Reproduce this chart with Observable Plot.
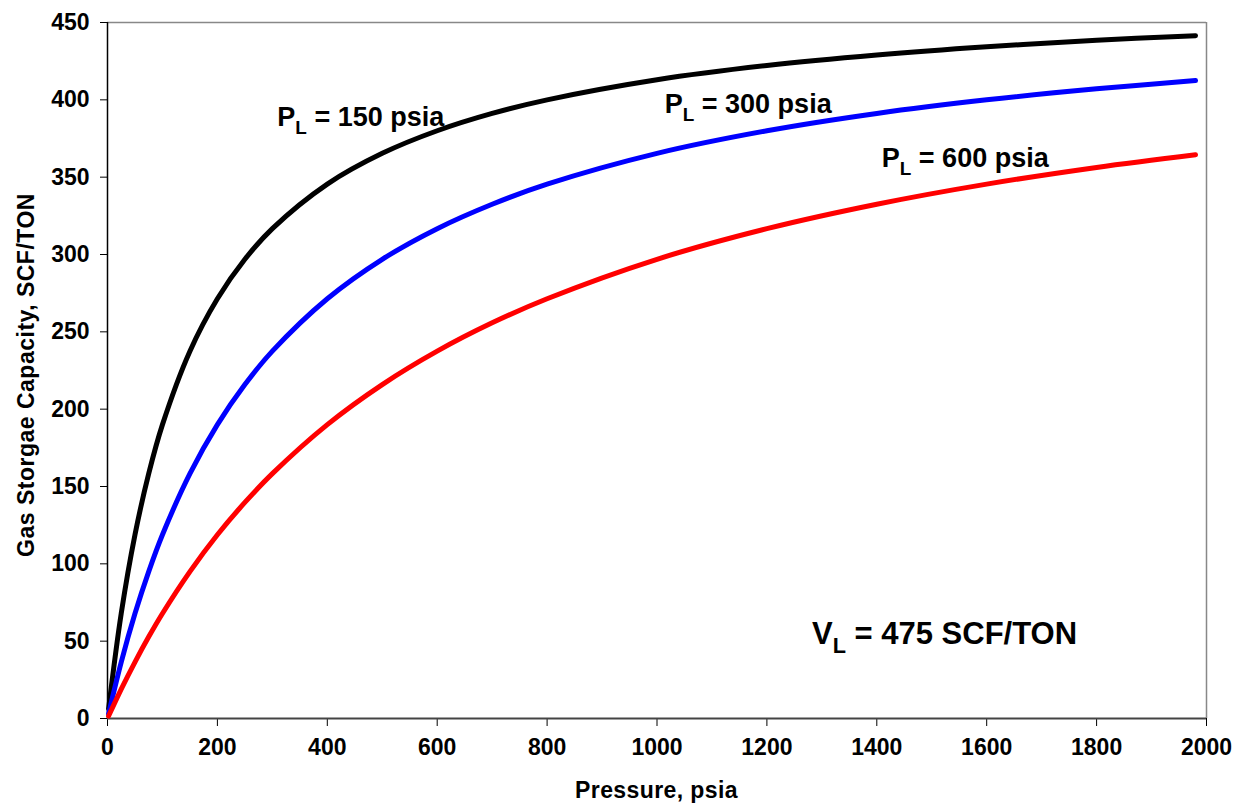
<!DOCTYPE html>
<html>
<head>
<meta charset="utf-8">
<script src="https://cdn.jsdelivr.net/npm/d3@7"></script>
<script src="https://cdn.jsdelivr.net/npm/@observablehq/plot@0.6"></script>
<style>
  html, body { margin: 0; padding: 0; background: #fff; }
  #chart { width: 1238px; height: 811px; }
  svg { font-family: "Liberation Sans", Arial, sans-serif; }
</style>
</head>
<body>
<div id="chart"></div>
<script>
// Pressure (psia) sample points
const pressure = [2, 25, 50, 75, 100, 150, 200, 250, 300, 400, 500, 600, 700, 800, 1000, 1200, 1400, 1600, 1800, 1980];
// Gas storage capacity (SCF/TON) for each Langmuir pressure
const capPL150 = [6.2, 67.9, 118.8, 158.3, 190, 237.5, 271.4, 296.9, 316.7, 345.5, 365.4, 380, 391.2, 400, 413, 422.2, 429, 434.3, 438.5, 441.5];
const capPL300 = [3.1, 36.5, 67.9, 95, 118.8, 158.3, 190, 215.9, 237.5, 271.4, 296.9, 316.7, 332.5, 345.5, 365.4, 380, 391.2, 400, 407.1, 412.5];
const capPL600 = [1.6, 19, 36.5, 52.8, 67.9, 95, 118.8, 139.7, 158.3, 190, 215.9, 237.5, 255.8, 271.4, 296.9, 316.7, 332.5, 345.5, 356.3, 364.5];
const seriesNames = ["PL150", "PL300", "PL600"];
const seriesColors = ["#000000", "#0000ff", "#ff0000"];

// Tick labels
const xTicks = [0, 200, 400, 600, 800, 1000, 1200, 1400, 1600, 1800, 2000];
const yTicks = [0, 50, 100, 150, 200, 250, 300, 350, 400, 450];

// Annotations (data coordinates of the text start / baseline)
const annMain = ["P", "P", "P", "V"];
const annSub = ["L", "L", "L", "L"];
const annRest = [" = 150 psia", " = 300 psia", " = 600 psia", " = 475 SCF/TON"];
const annP = [310, 1015, 1410, 1283];
const annV = [383, 391, 356, 48];
const annSize = [27, 27, 27, 31];

const xTitle = "Pressure, psia";
const yTitle = "Gas Storgae Capacity, SCF/TON";

const caps = [capPL150, capPL300, capPL600];
const data = [];
seriesNames.forEach((s, i) => pressure.forEach((p, j) => data.push({series: s, p, v: caps[i][j]})));

const plot = Plot.plot({
  width: 1238,
  height: 811,
  marginLeft: 107,
  marginRight: 32,
  marginTop: 22,
  marginBottom: 93,
  style: {fontFamily: "'Liberation Sans', Arial, sans-serif", fontSize: "23px", fontWeight: "bold", color: "#000", background: "#fff"},
  x: {domain: [0, 2000]},
  y: {domain: [0, 450]},
  color: {domain: seriesNames, range: seriesColors},
  marks: [
    Plot.ruleY([450], {stroke: "#888", strokeWidth: 1.5}),
    Plot.ruleX([2000], {stroke: "#888", strokeWidth: 1.5}),
    Plot.axisX({ticks: xTicks, tickSize: 8, tickPadding: 12, tickFormat: d => String(d), label: null, stroke: "#000", strokeOpacity: 1}),
    Plot.axisY({ticks: yTicks, tickSize: 7, tickPadding: 11, tickFormat: d => String(d), label: null, stroke: "#000", strokeOpacity: 1}),
    Plot.ruleY([0], {stroke: "#444", strokeWidth: 2}),
    Plot.ruleX([0], {stroke: "#000", strokeWidth: 1.5}),
    Plot.line(data, {x: "p", y: "v", z: "series", stroke: "series", strokeWidth: 5, strokeLinecap: "round", strokeLinejoin: "round", curve: "catmull-rom"})
  ]
});

document.getElementById("chart").appendChild(plot);

const svg = d3.select(plot);
const sx = plot.scale("x"), sy = plot.scale("y");

// axis titles
svg.append("text")
  .attr("x", (sx.apply(0) + sx.apply(2000)) / 2)
  .attr("y", 798)
  .attr("text-anchor", "middle")
  .attr("font-size", 23).attr("font-weight", "bold").attr("letter-spacing", "0.4px")
  .attr("fill", "#000")
  .text(xTitle);

svg.append("text")
  .attr("transform", `translate(34,${(sy.apply(0) + sy.apply(450)) / 2 + 5}) rotate(-90)`)
  .attr("text-anchor", "middle")
  .attr("font-size", 23).attr("font-weight", "bold").attr("letter-spacing", "0.5px")
  .attr("fill", "#000")
  .text(yTitle);

// annotations with subscripts
annMain.forEach((m, i) => {
  const t = svg.append("text")
    .attr("x", sx.apply(annP[i]))
    .attr("y", sy.apply(annV[i]))
    .attr("text-anchor", "start")
    .attr("font-size", annSize[i]).attr("font-weight", "bold")
    .attr("fill", "#000");
  t.append("tspan").text(m);
  t.append("tspan").attr("font-size", annSize[i] * 0.7).attr("dy", annSize[i] * 0.3).text(annSub[i]);
  t.append("tspan").attr("dy", -annSize[i] * 0.3).text(annRest[i]);
});
</script>
</body>
</html>
